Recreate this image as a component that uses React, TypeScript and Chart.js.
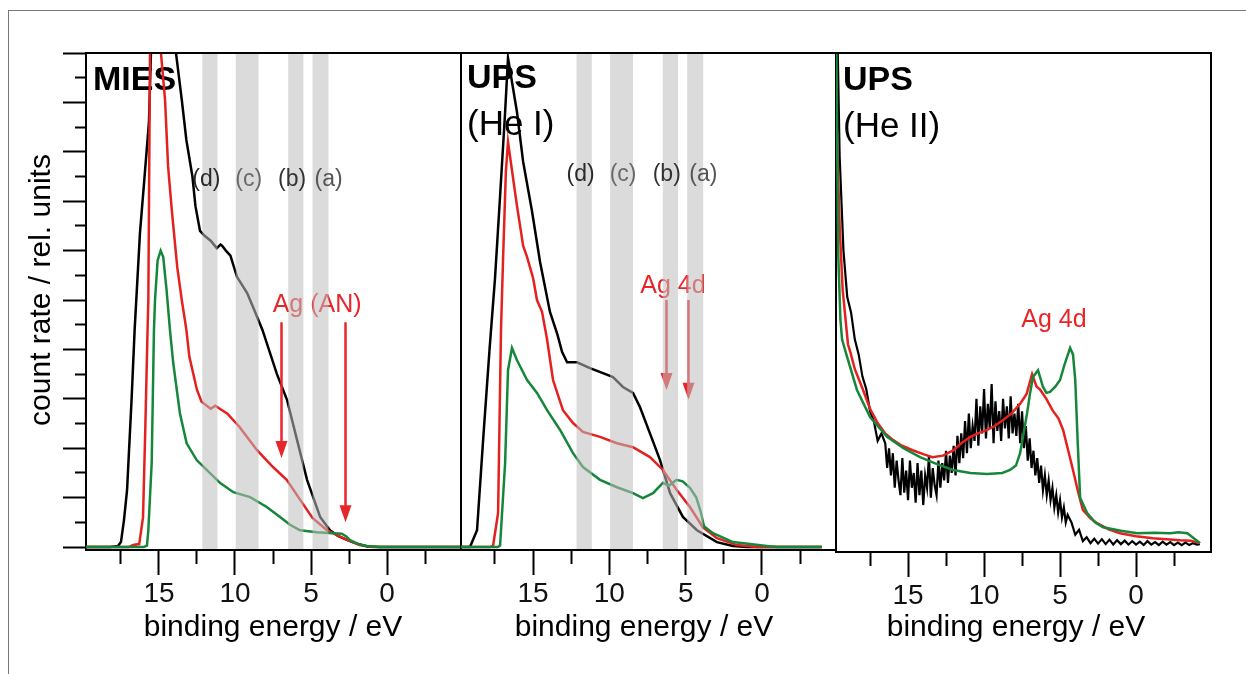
import React, { useEffect, useRef } from 'react';
import { Chart, registerables } from 'chart.js';
Chart.register(...registerables);

const FONT = '"Liberation Sans", Arial, Helvetica, sans-serif';
const BLACK = '#000000';
const RED = '#e3211f';
const GREEN = '#16873a';
const AG_RED = '#e8262a';

// ---------- MIES panel (binding energy eV / count rate, rel. units) ----------
const miesBlackE = [19.8, 18.2, 17.7, 17.5, 17.3, 17.1, 16.8, 16.6, 16.25, 16.0, 15.66, 15.5, 15.22, 14.5, 13.88, 13.5, 13.2, 12.8, 12.6, 12.3, 12.0, 11.6, 11.2, 10.95, 10.85, 10.6, 10.3, 9.87, 9.2, 8.8, 8.2, 7.24, 6.58, 5.92, 5.26, 4.4, 3.75, 3.2, 2.6, 1.9, 1.3, 0.5, -4.8];
const miesBlackI = [0, 0, 0.02, 0.1, 0.55, 1.15, 3.0, 4.4, 6.36, 7.3, 8.6, 10.3, 13.2, 11.6, 10.0, 9.05, 8.24, 7.5, 6.9, 6.4, 6.3, 6.2, 6.05, 6.12, 6.1, 6.0, 5.9, 5.47, 5.14, 4.85, 4.4, 3.5, 2.98, 2.17, 1.36, 0.61, 0.34, 0.22, 0.14, 0.06, 0.01, 0, 0];
const miesRedE = [19.8, 17.0, 16.7, 16.3, 16.05, 15.9, 15.75, 15.7, 15.59, 15.5, 14.87, 14.6, 14.4, 14.15, 13.8, 13.5, 13.2, 13.0, 12.5, 12.2, 11.6, 11.3, 11.0, 10.5, 9.7, 8.55, 7.5, 6.6, 5.7, 4.9, 3.95, 3.3, 2.6, 1.8, 1.0, -4.8];
const miesRedI = [0, 0, 0.04, 0.06, 0.6, 2.4, 4.4, 5.0, 10.0, 12.3, 10.0, 9.05, 7.7, 6.8, 5.67, 5.0, 4.4, 3.85, 3.18, 2.94, 2.8, 2.86, 2.8, 2.7, 2.43, 1.96, 1.62, 1.36, 0.95, 0.59, 0.34, 0.24, 0.14, 0.04, 0, 0];
const miesGreenE = [19.8, 16.0, 15.79, 15.7, 15.48, 15.33, 15.26, 15.09, 14.89, 14.72, 14.5, 14.28, 14.06, 13.62, 13.18, 12.52, 11.86, 10.99, 10.11, 9.01, 7.91, 7.04, 6.38, 5.72, 4.63, 3.53, 2.98, 2.7, 2.43, 1.8, 1.34, 0.5, -4.8];
const miesGreenI = [0, 0, 0.03, 0.34, 1.7, 4.4, 5.0, 5.8, 6.0, 5.87, 5.2, 4.4, 3.72, 2.7, 2.1, 1.76, 1.56, 1.3, 1.11, 1.01, 0.81, 0.61, 0.45, 0.34, 0.3, 0.28, 0.27, 0.22, 0.14, 0.05, 0.02, 0, 0];

// ---------- UPS He I panel ----------
const he1BlackE = [19.72, 19.13, 18.67, 18.27, 17.85, 17.49, 17.16, 16.83, 16.64, 16.05, 15.65, 15.07, 14.54, 13.89, 13.4, 13.1, 12.77, 12.12, 11.27, 10.42, 9.76, 9.11, 8.45, 7.99, 7.34, 6.68, 6.02, 5.18, 4.26, 2.95, 1.9, 1.0, -3.9];
const he1BlackI = [0, 0, 0.34, 2.17, 4.0, 5.45, 7.1, 8.8, 9.9, 8.8, 7.8, 6.8, 5.77, 4.76, 4.3, 3.95, 3.74, 3.74, 3.62, 3.52, 3.44, 3.24, 3.12, 2.83, 2.3, 1.76, 1.09, 0.61, 0.34, 0.1, 0.02, 0, 0];
const he1RedE = [19.72, 17.8, 17.62, 17.29, 17.1, 16.96, 16.78, 16.64, 16.31, 16.05, 15.65, 15.39, 15.0, 14.74, 14.41, 14.08, 13.69, 13.04, 12.38, 11.73, 10.61, 9.5, 8.45, 7.34, 6.49, 5.57, 4.72, 3.87, 2.95, 1.64, 0.33, -3.9];
const he1RedI = [0, 0, 0.02, 0.69, 4.4, 5.87, 7.6, 8.2, 7.47, 6.9, 6.1, 5.87, 5.45, 5.0, 4.76, 4.2, 3.38, 2.77, 2.51, 2.33, 2.23, 2.1, 2.02, 1.82, 1.56, 1.15, 0.81, 0.4, 0.18, 0.04, 0, 0];
const he1GreenE = [19.72, 17.3, 17.16, 16.83, 16.64, 16.38, 16.05, 15.39, 14.74, 14.08, 13.23, 12.38, 11.73, 10.61, 9.5, 8.45, 7.8, 7.14, 6.49, 6.1, 5.6, 5.2, 4.72, 4.3, 4.0, 3.8, 3.21, 1.9, -0.32, -1.0, -3.9];
const he1GreenI = [0, 0, 0.03, 1.7, 3.58, 4.03, 3.78, 3.38, 3.12, 2.77, 2.37, 1.9, 1.62, 1.36, 1.21, 1.09, 0.99, 1.09, 1.3, 1.24, 1.36, 1.33, 1.2, 1.0, 0.7, 0.42, 0.28, 0.1, 0.02, 0, 0];

// ---------- UPS He II panel ----------
const he2BlackE = [
  19.74, 19.5, 19.25, 19.0, 18.75, 18.5, 18.25, 18.0, 17.75, 17.5,
  17.25, 17.0, 16.75,
  16.5, 16.375, 16.25, 16.125, 16.0, 15.875, 15.75, 15.625, 15.5, 15.375,
  15.25, 15.125, 15.0, 14.875, 14.75, 14.625, 14.5, 14.375, 14.25, 14.125,
  14.0, 13.875, 13.75, 13.625, 13.5, 13.375, 13.25, 13.125, 13.0, 12.875,
  12.75, 12.625, 12.5, 12.375, 12.25, 12.125, 12.0, 11.875, 11.75, 11.625,
  11.5, 11.375, 11.25, 11.125, 11.0, 10.875, 10.75, 10.625, 10.5, 10.375,
  10.25, 10.125, 10.0, 9.875, 9.75, 9.625, 9.5, 9.375, 9.25, 9.125,
  9.0, 8.875, 8.75, 8.625, 8.5, 8.375, 8.25, 8.125, 8.0, 7.875,
  7.75, 7.625, 7.5, 7.375, 7.25, 7.125, 7.0, 6.875, 6.75, 6.625,
  6.5, 6.375, 6.25, 6.125, 6.0, 5.875, 5.75, 5.625, 5.5, 5.375,
  5.25, 5.125, 5.0, 4.875, 4.75, 4.625, 4.5,
  4.25, 4.0, 3.75, 3.5, 3.25, 3.0, 2.75, 2.5, 2.25, 2.0,
  1.75, 1.5, 1.25, 1.0, 0.75, 0.5, 0.25, 0.0, -0.25, -0.5,
  -0.75, -1.0, -1.25, -1.5, -1.75, -2.0, -2.25, -2.5, -2.75, -3.0,
  -3.25, -3.5, -3.75, -4.0, -4.2,
];
const he2BlackI = [
  12, 7.9, 6.0, 5.06, 4.75, 4.2, 3.9, 3.45, 3.2, 2.75,
  2.55, 2.15, 2.3,
  2.1, 1.6, 2.0, 1.45, 1.9, 1.2, 1.75, 1.35, 1.05, 1.8,
  1.1, 1.55, 0.95, 1.75, 1.2, 1.5, 0.9, 1.7, 1.05, 1.55,
  0.85, 1.45, 1.2, 1.85, 1.0, 1.6, 1.25, 1.05, 1.75, 1.2,
  1.7, 1.35, 1.95, 1.3, 1.85, 1.5, 2.05, 1.45, 2.25, 1.7,
  2.3, 1.8, 2.55, 1.9, 2.7, 2.0, 2.45, 2.15, 3.0, 2.05,
  2.85, 2.3, 3.2, 2.2, 2.9, 2.4, 3.3, 2.1, 2.95, 2.35,
  2.75, 2.15, 3.0, 2.4, 2.85, 2.2, 3.05, 2.3, 2.7, 2.25,
  2.9, 2.1, 2.75, 2.0, 2.45, 1.75, 2.2, 1.6, 1.95, 1.45,
  1.8, 1.3, 1.65, 1.15, 1.45, 1.05, 1.35, 0.95, 1.2, 0.8,
  1.05, 0.7, 0.95, 0.6, 0.8, 0.5, 0.65,
  0.5, 0.25, 0.35, 0.12, 0.2, 0.08, 0.17, 0.07, 0.16, 0.06,
  0.15, 0.05, 0.14, 0.06, 0.13, 0.05, 0.12, 0.05, 0.11, 0.04,
  0.12, 0.05, 0.1, 0.04, 0.11, 0.05, 0.1, 0.04, 0.09, 0.04,
  0.09, 0.04, 0.08, 0.05, 0.06,
];
const he2RedE = [19.74, 19.5, 19.3, 18.95, 18.8, 18.5, 17.96, 17.5, 17.0, 16.5, 16.0, 15.4, 14.7, 14.0, 13.4, 12.7, 12.0, 11.5, 10.9, 10.4, 9.8, 9.3, 8.75, 8.2, 7.6, 7.2, 6.84, 6.55, 6.3, 5.9, 5.5, 5.1, 4.8, 4.5, 4.15, 3.8, 3.5, 3.0, 2.6, 1.8, 1.05, 0.0, -1.1, -2.0, -2.9, -3.6, -4.2];
const he2RedI = [9, 6.5, 5.2, 4.1, 3.95, 3.6, 3.18, 2.8, 2.51, 2.3, 2.17, 2.05, 1.96, 1.88, 1.82, 1.85, 1.96, 2.1, 2.23, 2.3, 2.37, 2.45, 2.57, 2.7, 2.91, 3.1, 3.5, 3.25, 3.18, 3.0, 2.77, 2.6, 2.37, 2.0, 1.56, 1.1, 0.75, 0.58, 0.49, 0.36, 0.28, 0.22, 0.18, 0.16, 0.14, 0.13, 0.08];
const he2GreenE = [19.74, 19.6, 19.45, 19.34, 19.01, 18.36, 17.5, 16.38, 15.3, 14.21, 13.1, 12.04, 10.9, 9.8, 8.8, 8.29, 7.9, 7.63, 7.4, 7.17, 6.98, 6.78, 6.45, 6.12, 5.9, 5.66, 5.3, 5.0, 4.7, 4.34, 4.15, 4.0, 3.85, 3.68, 3.22, 2.7, 2.17, 1.0, -0.08, -1.2, -2.25, -2.8, -3.37, -3.8, -4.21];
const he2GreenI = [11, 6.0, 4.6, 4.2, 3.85, 3.18, 2.63, 2.23, 2.0, 1.82, 1.68, 1.56, 1.5, 1.48, 1.5, 1.56, 1.65, 1.9, 2.3, 2.71, 3.1, 3.44, 3.58, 3.24, 3.12, 3.14, 3.25, 3.38, 3.7, 4.03, 3.9, 3.38, 2.2, 1.0, 0.69, 0.5, 0.4, 0.33, 0.28, 0.29, 0.28, 0.3, 0.28, 0.18, 0.08];

// ---------- shaded regions (a)-(d) ----------
const bandFromE = [12.15, 9.95, 6.5, 4.9];
const bandToE = [11.15, 8.45, 5.5, 3.85];
const bandText = ['(d)', '(c)', '(b)', '(a)'];
const bandTextE = [11.88, 9.1, 6.24, 3.84];
const bandTextColor = ['#2a2a2a', '#6a6a6a', '#333333', '#555555'];

const xTitle = 'binding energy / eV';
const yTitle = 'count rate / rel. units';

type Series = { e: number[]; v: number[]; c: string; w: number };
type Arrow = { e: number; from: number; to: number };
type Panel = {
  key: string;
  padLeft: number; padRight: number; yWidth: number; xHeight: number;
  xMin: number; xMax: number; yMin: number; yMax: number;
  yTicks: boolean; rightBorder: boolean; bands: boolean; bandLabelV: number;
  series: Series[];
  titles: { text: string; bold: boolean; size: number; x: number; y: number }[];
  ag: { text: string; e: number; v: number };
  arrows: Arrow[];
  xTitleX: number;
  yTitle: boolean;
};

const panels: Panel[] = [
  {
    key: 'mies', padLeft: 0, padRight: 786, yWidth: 86, xHeight: 124,
    xMin: -4.8, xMax: 19.8, yMin: -0.06, yMax: 10,
    yTicks: true, rightBorder: false, bands: true, bandLabelV: 7.43,
    series: [
      { e: miesGreenE, v: miesGreenI, c: GREEN, w: 2.5 },
      { e: miesRedE, v: miesRedI, c: RED, w: 2.5 },
      { e: miesBlackE, v: miesBlackI, c: BLACK, w: 2.5 },
    ],
    titles: [{ text: 'MIES', bold: true, size: 34, x: 93, y: 90 }],
    ag: { text: 'Ag (AN)', e: 4.6, v: 4.9 },
    arrows: [{ e: 7.0, from: 4.55, to: 1.8 }, { e: 2.76, from: 4.55, to: 0.5 }],
    xTitleX: 273, yTitle: true,
  },
  {
    key: 'he1', padLeft: 461, padRight: 410, yWidth: 0, xHeight: 124,
    xMin: -4.85, xMax: 19.72, yMin: -0.06, yMax: 10,
    yTicks: false, rightBorder: false, bands: true, bandLabelV: 7.53,
    series: [
      { e: he1GreenE, v: he1GreenI, c: GREEN, w: 2.5 },
      { e: he1RedE, v: he1RedI, c: RED, w: 2.5 },
      { e: he1BlackE, v: he1BlackI, c: BLACK, w: 2.5 },
    ],
    titles: [
      { text: 'UPS', bold: true, size: 34, x: 467, y: 88 },
      { text: '(He I)', bold: false, size: 35, x: 467, y: 135 },
    ],
    ag: { text: 'Ag 4d', e: 5.83, v: 5.28 },
    arrows: [{ e: 6.3, from: 5.0, to: 3.18 }, { e: 4.87, from: 5.0, to: 2.98 }],
    xTitleX: 644, yTitle: false,
  },
  {
    key: 'he2', padLeft: 836, padRight: 35, yWidth: 0, xHeight: 122,
    xMin: -4.93, xMax: 19.74, yMin: -0.1, yMax: 10,
    yTicks: false, rightBorder: true, bands: false, bandLabelV: 0,
    series: [
      { e: he2GreenE, v: he2GreenI, c: GREEN, w: 2.5 },
      { e: he2RedE, v: he2RedI, c: RED, w: 2.5 },
      { e: he2BlackE, v: he2BlackI, c: BLACK, w: 2.2 },
    ],
    titles: [
      { text: 'UPS', bold: true, size: 34, x: 843, y: 90 },
      { text: '(He II)', bold: false, size: 35, x: 843, y: 137 },
    ],
    ag: { text: 'Ag 4d', e: 5.4, v: 4.6 },
    arrows: [],
    xTitleX: 1016, yTitle: false,
  },
];

function isMult(v: number, step: number) {
  const r = v / step;
  return Math.abs(r - Math.round(r)) < 1e-6;
}

function buildChart(canvas: HTMLCanvasElement, p: Panel) {
  const deco = {
    id: 'deco_' + p.key,
    beforeDatasetsDraw(chart: any) {
      const ctx = chart.ctx;
      ctx.save();
      ctx.fillStyle = '#000';
      ctx.textAlign = 'left';
      ctx.textBaseline = 'alphabetic';
      for (const t of p.titles) {
        ctx.font = `${t.bold ? 'bold ' : ''}${t.size}px ${FONT}`;
        ctx.fillText(t.text, t.x, t.y);
      }
      ctx.restore();
    },
    afterDatasetsDraw(chart: any) {
      const ctx = chart.ctx;
      const a = chart.chartArea;
      const xs = chart.scales.x;
      const ys = chart.scales.y;
      ctx.save();
      // Ag annotation and arrows
      ctx.fillStyle = AG_RED;
      ctx.strokeStyle = AG_RED;
      ctx.font = `25px ${FONT}`;
      ctx.textAlign = 'center';
      ctx.textBaseline = 'middle';
      ctx.fillText(p.ag.text, xs.getPixelForValue(p.ag.e), ys.getPixelForValue(p.ag.v));
      for (const ar of p.arrows) {
        const x = Math.round(xs.getPixelForValue(ar.e)) + 0.5;
        const y1 = ys.getPixelForValue(ar.from);
        const y2 = ys.getPixelForValue(ar.to);
        ctx.lineWidth = 2.5;
        ctx.beginPath();
        ctx.moveTo(x, y1);
        ctx.lineTo(x, y2 - 14);
        ctx.stroke();
        ctx.beginPath();
        ctx.moveTo(x - 6, y2 - 17);
        ctx.lineTo(x + 6, y2 - 17);
        ctx.lineTo(x, y2);
        ctx.closePath();
        ctx.fill();
      }
      // shaded bands (drawn over the curves)
      if (p.bands) {
        ctx.fillStyle = 'rgba(190,190,190,0.55)';
        for (let i = 0; i < bandFromE.length; i++) {
          const x1 = xs.getPixelForValue(bandFromE[i]);
          const x2 = xs.getPixelForValue(bandToE[i]);
          ctx.fillRect(Math.min(x1, x2), a.top, Math.abs(x2 - x1), a.bottom - a.top - 1);
        }
        ctx.font = `23px ${FONT}`;
        ctx.textAlign = 'center';
        ctx.textBaseline = 'middle';
        for (let i = 0; i < bandText.length; i++) {
          ctx.fillStyle = bandTextColor[i];
          ctx.fillText(bandText[i], xs.getPixelForValue(bandTextE[i]), ys.getPixelForValue(p.bandLabelV));
        }
      }
      // frame lines
      ctx.strokeStyle = '#000';
      ctx.lineWidth = 2;
      ctx.beginPath();
      ctx.moveTo(a.left - 1, a.top);
      ctx.lineTo(a.right + 1, a.top);
      ctx.stroke();
      if (p.rightBorder) {
        ctx.beginPath();
        ctx.moveTo(a.right, a.top);
        ctx.lineTo(a.right, a.bottom + 1);
        ctx.stroke();
      }
      ctx.restore();
    },
    afterDraw(chart: any) {
      const ctx = chart.ctx;
      ctx.save();
      ctx.fillStyle = '#000';
      ctx.font = `30px ${FONT}`;
      ctx.textAlign = 'center';
      ctx.textBaseline = 'alphabetic';
      ctx.fillText(xTitle, p.xTitleX, 636);
      if (p.yTitle) {
        ctx.translate(50, 290);
        ctx.rotate(-Math.PI / 2);
        ctx.fillText(yTitle, 0, 0);
      }
      ctx.restore();
    },
  };

  return new Chart(canvas, {
    type: 'line',
    data: {
      datasets: p.series.map((s) => ({
        data: s.e.map((x, i) => ({ x, y: s.v[i] })),
        borderColor: s.c,
        borderWidth: s.w,
        pointRadius: 0,
        fill: false,
        tension: 0,
        clip: 0,
      })),
    },
    options: {
      responsive: false,
      animation: false,
      devicePixelRatio: 1,
      events: [],
      layout: { padding: { left: p.padLeft, right: p.padRight, top: 53, bottom: 0 } },
      plugins: { legend: { display: false }, tooltip: { enabled: false } },
      scales: {
        x: {
          type: 'linear',
          min: p.xMin,
          max: p.xMax,
          reverse: true,
          ticks: {
            stepSize: 2.5,
            includeBounds: false,
            autoSkip: false,
            maxRotation: 0,
            padding: 2,
            color: '#111',
            font: { family: FONT, size: 28 },
            callback: (v: any) => (isMult(Number(v), 5) ? String(Math.round(Number(v))) : ''),
          },
          grid: {
            drawOnChartArea: false,
            tickLength: 25,
            tickWidth: 2,
            tickColor: '#000',
            tickBorderDash: (ctx: any) => (ctx.tick && !isMult(ctx.tick.value, 5) ? [13, 60] : []),
          },
          border: { display: true, color: '#000', width: 2 },
          afterFit: (s: any) => { s.height = p.xHeight; },
        } as any,
        y: {
          type: 'linear',
          min: p.yMin,
          max: p.yMax,
          ticks: { display: false, stepSize: 0.5, includeBounds: false, autoSkip: false },
          grid: p.yTicks
            ? {
                display: true,
                drawOnChartArea: false,
                tickLength: 23,
                tickWidth: 2,
                tickColor: '#000',
                tickBorderDash: (ctx: any) => (ctx.tick && !isMult(ctx.tick.value, 1) ? [0, 12, 11, 60] : []),
              }
            : { display: false },
          border: { display: true, color: '#000', width: 2 },
          afterFit: (s: any) => { s.width = p.yWidth; },
        } as any,
      },
    },
    plugins: [deco as any],
  } as any);
}

export default function App() {
  const r0 = useRef<HTMLCanvasElement>(null);
  const r1 = useRef<HTMLCanvasElement>(null);
  const r2 = useRef<HTMLCanvasElement>(null);
  const refs = [r0, r1, r2];

  useEffect(() => {
    const charts = panels.map((p, i) => buildChart(refs[i].current as HTMLCanvasElement, p));
    return () => charts.forEach((c) => c.destroy());
  }, []);

  return (
    <div style={{ position: 'absolute', left: 0, top: 0, width: 1246, height: 674, background: '#fff', overflow: 'hidden' }}>
      <div
        style={{
          position: 'absolute', left: 8, top: 10, width: 1260, height: 700,
          borderLeft: '1px solid #777', borderTop: '1px solid #777',
        }}
      />
      {refs.map((r, i) => (
        <canvas
          key={i}
          ref={r}
          width={1246}
          height={674}
          style={{ position: 'absolute', left: 0, top: 0, width: 1246, height: 674 }}
        />
      ))}
    </div>
  );
}
